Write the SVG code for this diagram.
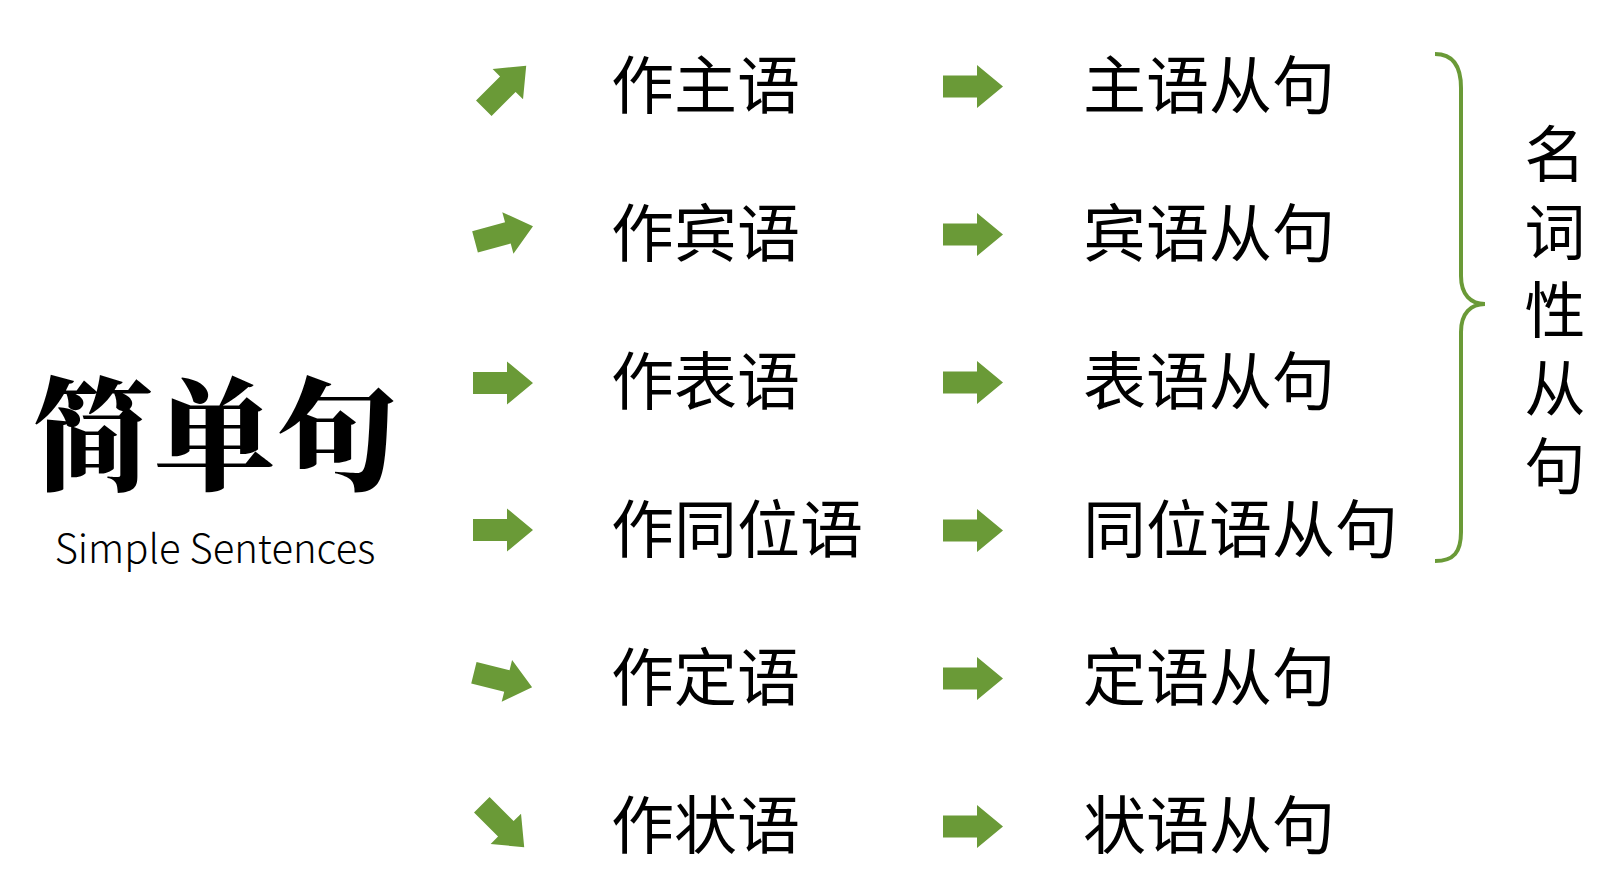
<svg xmlns="http://www.w3.org/2000/svg" width="1602" height="883" viewBox="0 0 1602 883">
<defs>
<style>
.t{font-family:"Noto Sans CJK SC","Noto Sans",sans-serif;font-size:63px;fill:#000;}
.v{font-family:"Noto Sans CJK SC","Noto Sans",sans-serif;font-size:61px;fill:#000;text-anchor:middle;}
.title{font-family:"Noto Serif CJK SC","Noto Sans CJK SC",serif;font-weight:900;font-size:122px;fill:#000;text-anchor:middle;}
.sub{font-family:"Noto Sans CJK SC","Noto Sans",sans-serif;font-weight:300;font-size:40px;fill:#000;text-anchor:middle;}
.arr{fill:#6A9A37;}
</style>
<path id="ar" class="arr" d="M-30,-11 H4 V-21.5 L30,0 L4,21.5 V11 H-30 Z"/>
</defs>
<rect width="1602" height="883" fill="#fff"/>
<g id="title">
<text class="title" x="215" y="480">简单句</text>
<text class="sub" x="215" y="563">Simple Sentences</text>
</g>
<g id="connectors">
<use href="#ar" transform="translate(505,87) rotate(-45)"/>
<use href="#ar" transform="translate(504,234) rotate(-15)"/>
<use href="#ar" transform="translate(503,383)"/>
<use href="#ar" transform="translate(503,530)"/>
<use href="#ar" transform="translate(503,680) rotate(14)"/>
<use href="#ar" transform="translate(503,826) rotate(45)"/>
<use href="#ar" transform="translate(973,86.5)"/>
<use href="#ar" transform="translate(973,234.5)"/>
<use href="#ar" transform="translate(973,382.5)"/>
<use href="#ar" transform="translate(973,530.5)"/>
<use href="#ar" transform="translate(973,678.5)"/>
<use href="#ar" transform="translate(973,826.5)"/>
</g>
<g id="n1"><text class="t" x="611" y="108">作主语</text></g>
<g id="n2"><text class="t" x="611" y="256">作宾语</text></g>
<g id="n3"><text class="t" x="611" y="404">作表语</text></g>
<g id="n4"><text class="t" x="611" y="552">作同位语</text></g>
<g id="n5"><text class="t" x="611" y="700">作定语</text></g>
<g id="n6"><text class="t" x="611" y="848">作状语</text></g>
<g id="m1"><text class="t" x="1083" y="108">主语从句</text></g>
<g id="m2"><text class="t" x="1083" y="256">宾语从句</text></g>
<g id="m3"><text class="t" x="1083" y="404">表语从句</text></g>
<g id="m4"><text class="t" x="1083" y="552">同位语从句</text></g>
<g id="m5"><text class="t" x="1083" y="700">定语从句</text></g>
<g id="m6"><text class="t" x="1083" y="848">状语从句</text></g>
<g id="brace">
<path d="M1435,54 C1454,54 1461,67 1461,88 V276 C1461,295 1471,304 1485,304 C1471,304 1461,313 1461,332 V532 C1461,552 1454,561 1435,561" fill="none" stroke="#6A9A37" stroke-width="4"/>
</g>
<g id="label">
<text class="v" x="1555" y="177">名</text>
<text class="v" x="1555" y="255">词</text>
<text class="v" x="1555" y="333">性</text>
<text class="v" x="1555" y="411">从</text>
<text class="v" x="1555" y="489">句</text>
</g>
</svg>
